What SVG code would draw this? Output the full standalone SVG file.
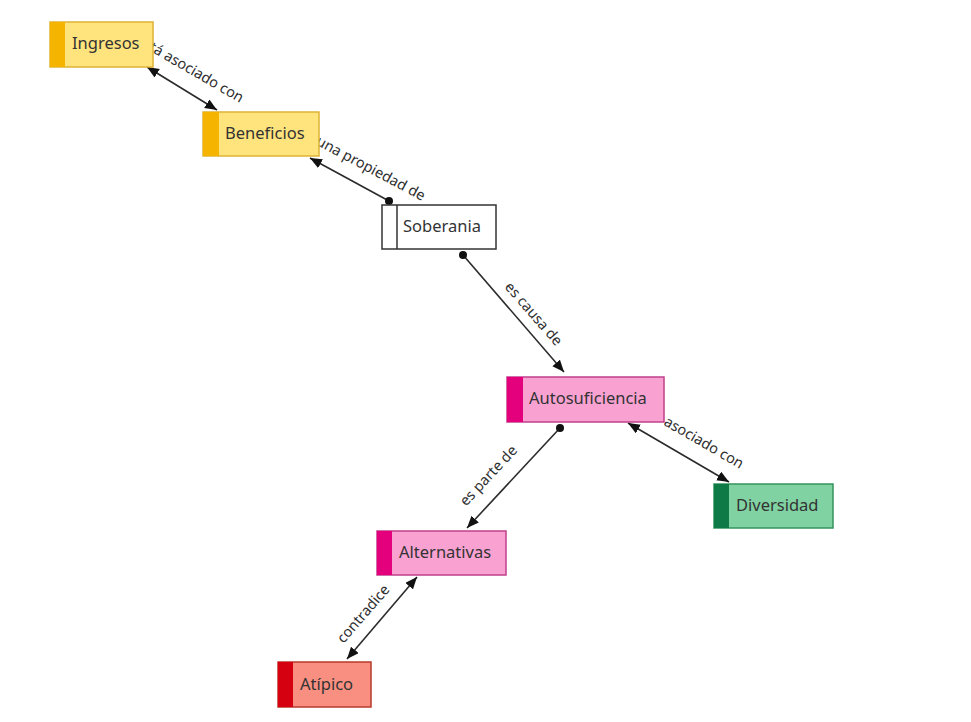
<svg xmlns="http://www.w3.org/2000/svg" width="971" height="722" viewBox="0 0 971 722">
<style>
.bg{fill:#ffffff}
.ln{stroke:#2b2b2b;stroke-width:1.6;fill:none}
.lbl{font-family:"Noto Sans","Open Sans",sans-serif;font-size:14.5px;fill:#2e2e2e}
.nt{font-family:"Noto Sans","Open Sans",sans-serif;font-size:16.5px;fill:#333333}
.dot{fill:#111111}
.y .box{fill:#FFE47E;stroke:#DDB334;stroke-width:1.5}
.y .strip{fill:#F5B400}
.p .box{fill:#F9A2D2;stroke:#C0408A;stroke-width:1.5}
.p .strip{fill:#E4007D}
.g .box{fill:#80D2A2;stroke:#34955F;stroke-width:1.5}
.g .strip{fill:#0E7A46}
.r .box{fill:#F98F80;stroke:#B83A2E;stroke-width:1.5}
.r .strip{fill:#D50010}
.w .box{fill:#ffffff;stroke:#333333;stroke-width:1.5}
.w .sep{stroke:#333333;stroke-width:1.5}
</style>
<defs>
<marker id="arr" markerUnits="userSpaceOnUse" markerWidth="13" markerHeight="11" refX="12" refY="5" orient="auto-start-reverse">
<path d="M0,0 L12,5 L0,10 Z" fill="#111111"/>
</marker>
</defs>
<rect class="bg" x="0" y="0" width="971" height="722"/>
<g id="connectors">
<line class="ln" x1="147" y1="67" x2="217" y2="110" marker-start="url(#arr)" marker-end="url(#arr)"/>
<text class="lbl" text-anchor="end" transform="translate(240,103) rotate(30)">está asociado con</text>
<line class="ln" x1="389" y1="201" x2="310" y2="158" marker-end="url(#arr)"/>
<circle class="dot" cx="389" cy="201" r="4"/>
<text class="lbl" text-anchor="end" transform="translate(422,201) rotate(28)">es una propiedad de</text>
<line class="ln" x1="463" y1="255" x2="564" y2="372" marker-end="url(#arr)"/>
<circle class="dot" cx="463" cy="255" r="4"/>
<text class="lbl" text-anchor="middle" transform="translate(530,317) rotate(49)">es causa de</text>
<line class="ln" x1="628" y1="423" x2="729" y2="482" marker-start="url(#arr)" marker-end="url(#arr)"/>
<text class="lbl" text-anchor="end" transform="translate(740,469) rotate(30)">está asociado con</text>
<line class="ln" x1="560" y1="428" x2="467" y2="528" marker-end="url(#arr)"/>
<circle class="dot" cx="560" cy="428" r="4"/>
<text class="lbl" text-anchor="middle" transform="translate(492,479) rotate(-47)">es parte de</text>
<line class="ln" x1="417" y1="577" x2="347" y2="659" marker-start="url(#arr)" marker-end="url(#arr)"/>
<text class="lbl" text-anchor="middle" transform="translate(367,617) rotate(-49)">contradice</text>
</g>
<g id="node-ingresos" class="y">
<rect class="box" x="50" y="22" width="103" height="45"/>
<rect class="strip" x="50" y="22" width="15" height="45"/>
<text class="nt" x="72" y="49">Ingresos</text>
</g>
<g id="node-beneficios" class="y">
<rect class="box" x="203" y="112" width="116" height="44"/>
<rect class="strip" x="203" y="112" width="16" height="44"/>
<text class="nt" x="225" y="139">Beneficios</text>
</g>
<g id="node-soberania" class="w">
<rect class="box" x="382" y="205" width="114" height="44"/>
<line class="sep" x1="397" y1="205" x2="397" y2="249"/>
<text class="nt" x="403" y="232">Soberania</text>
</g>
<g id="node-autosuficiencia" class="p">
<rect class="box" x="507" y="377" width="157" height="45"/>
<rect class="strip" x="507" y="377" width="16" height="45"/>
<text class="nt" x="529" y="404">Autosuficiencia</text>
</g>
<g id="node-diversidad" class="g">
<rect class="box" x="714" y="484" width="119" height="44"/>
<rect class="strip" x="714" y="484" width="15" height="44"/>
<text class="nt" x="736" y="511">Diversidad</text>
</g>
<g id="node-alternativas" class="p">
<rect class="box" x="377" y="531" width="129" height="44"/>
<rect class="strip" x="377" y="531" width="15" height="44"/>
<text class="nt" x="399" y="558">Alternativas</text>
</g>
<g id="node-atipico" class="r">
<rect class="box" x="278" y="662" width="93" height="45"/>
<rect class="strip" x="278" y="662" width="15" height="45"/>
<text class="nt" x="300" y="690">Atípico</text>
</g>
</svg>
